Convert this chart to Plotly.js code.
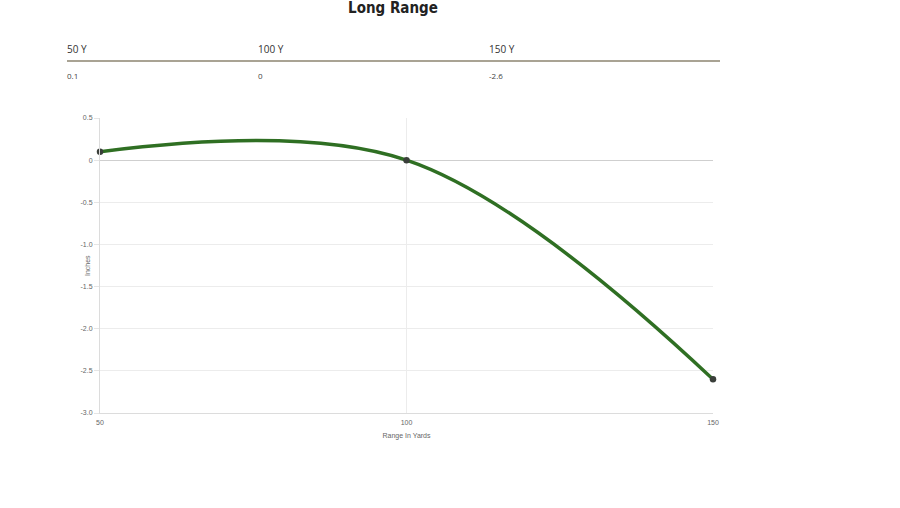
<!DOCTYPE html>
<html><head><meta charset="utf-8">
<script src="https://cdn.plot.ly/plotly-3.0.1.min.js"></script>
<style>html,body{margin:0;padding:0;background:#fff}#c{width:900px;height:508px}</style>
</head><body><div id="c"></div>
<script>
const ranges = [50, 100, 150];
const drops = [0.1, 0, -2.6];
const headerLabels = ['50 Y', '100 Y', '150 Y'];
const valueLabels = ['0.1', '0', '-2.6'];
const yTicks = [0.5, 0, -0.5, -1.0, -1.5, -2.0, -2.5, -3.0];
const yTickText = ['0.5', '0', '-0.5', '-1.0', '-1.5', '-2.0', '-2.5', '-3.0'];
const xTicks = [50, 100, 150];

const colX = [65, 256, 487];
const W = 900, H = 508;
const L = 100, R = 713, T = 118, B = 413;
const px = x => (x - L) / (R - L), py = y => (B - y) / (B - T);

const annotations = [];
headerLabels.forEach((t, i) => annotations.push({text: t, xref: 'paper', yref: 'paper', x: px(colX[i]), y: py(49), xanchor: 'left', yanchor: 'middle', showarrow: false, font: {family: 'Open Sans, sans-serif', size: 10, color: '#333'}}));
valueLabels.forEach((t, i) => annotations.push({text: t, xref: 'paper', yref: 'paper', x: px(colX[i]), y: py(75), xanchor: 'left', yanchor: 'middle', showarrow: false, font: {family: 'Open Sans, sans-serif', size: 8, color: '#444'}}));
annotations.push({text: 'Inches', xref: 'paper', yref: 'paper', x: px(87), y: py(266), xanchor: 'center', yanchor: 'middle', textangle: -90, showarrow: false, font: {family: 'Arial, sans-serif', size: 7, color: '#666'}});

const trace = {
  x: ranges, y: drops, type: 'scatter', mode: 'lines+markers',
  line: {shape: 'spline', smoothing: 1.05, color: '#2f6f23', width: 3.5},
  marker: {color: '#3a3f3a', size: 6.5},
  cliponaxis: false,
  hoverinfo: 'none'
};
const layout = {
  width: W, height: H,
  margin: {l: L, r: W - R, t: T, b: H - B},
  paper_bgcolor: '#fff', plot_bgcolor: '#fff',
  showlegend: false,
  title: {text: '<b>Long Range</b>', xref: 'paper', x: px(393), xanchor: 'center', yref: 'container', y: 1 - 2 / H, yanchor: 'top', font: {family: 'DejaVu Sans Condensed, sans-serif', size: 15, color: '#222'}},
  xaxis: {range: [50, 150], tickvals: xTicks, ticktext: xTicks.map(String), showgrid: true, gridcolor: '#ececec', gridwidth: 1, zeroline: false, showline: true, linecolor: '#dcdcdc', ticks: 'outside', ticklen: 3, tickcolor: '#ffffff', tickfont: {family: 'Arial, sans-serif', size: 7, color: '#666'},
    title: {text: 'Range In Yards', font: {family: 'Arial, sans-serif', size: 7, color: '#666'}, standoff: 7}},
  yaxis: {range: [-3.0, 0.5], tickvals: yTicks, ticktext: yTickText, showgrid: true, gridcolor: '#ececec', gridwidth: 1, zeroline: true, zerolinecolor: '#cfcfcf', zerolinewidth: 1, showline: true, linecolor: '#dcdcdc', ticks: 'outside', ticklen: 5, tickcolor: '#e5e5e5', tickfont: {family: 'Arial, sans-serif', size: 7, color: '#666'}},
  annotations: annotations,
  shapes: [{type: 'line', xref: 'paper', yref: 'paper', x0: px(67), x1: px(720), y0: py(61), y1: py(61), line: {color: '#8c8470', width: 1.5}}]
};
Plotly.newPlot('c', [trace], layout, {displayModeBar: false, staticPlot: true});
</script></body></html>
